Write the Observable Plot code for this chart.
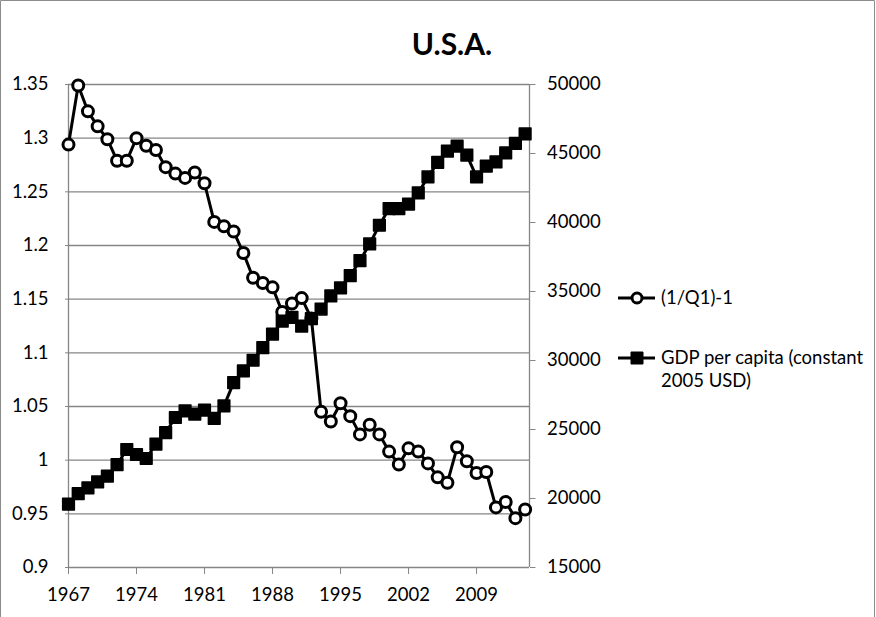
<!DOCTYPE html>
<html>
<head>
<meta charset="utf-8">
<script src="https://cdn.jsdelivr.net/npm/d3@7"></script>
<script src="https://cdn.jsdelivr.net/npm/@observablehq/plot@0.6"></script>
<style>
  html, body { margin: 0; padding: 0; background: #fff; }
  #wrap { position: relative; width: 876px; height: 617px; font-family: Lato, "Open Sans", sans-serif; }
  #wrap svg.overlay { position: absolute; left: 0; top: 0; pointer-events: none; }
  #chart { position: absolute; left: 0; top: 0; }
</style>
</head>
<body>
<div id="wrap">
  <div id="chart"></div>
  <svg class="overlay" width="876" height="617" font-family="Lato, 'Open Sans', sans-serif">
    <path d="M0.5,617 V0.5 H874.5 V617" fill="none" stroke="#8c8c8c" stroke-width="1"/>
    <text x="452" y="55" text-anchor="middle" font-size="30" font-weight="bold" fill="#000">U.S.A.</text>
    <g id="legend"></g>
  </svg>
</div>
<script>
const years = d3.range(1967, 2015);
const q1Ratio = [
  1.294, 1.349, 1.325, 1.311, 1.299, 1.279, 1.279, 1.300, 1.293, 1.289,
  1.273, 1.267, 1.263, 1.268, 1.258, 1.222, 1.218, 1.213, 1.193, 1.170,
  1.165, 1.161, 1.138, 1.146, 1.151, 1.132, 1.045, 1.036, 1.053, 1.041,
  1.024, 1.033, 1.024, 1.008, 0.996, 1.011, 1.008, 0.997, 0.984, 0.979,
  1.012, 0.999, 0.988, 0.989, 0.956, 0.961, 0.946, 0.954
];
const gdpPerCapita = [
  19590, 20360, 20770, 21200, 21620, 22460, 23550, 23190, 22900, 23940,
  24780, 25870, 26350, 26110, 26400, 25800, 26710, 28400, 29250, 30020,
  30940, 31910, 32850, 33120, 32490, 33040, 33730, 34680, 35260, 36150,
  37240, 38450, 39800, 41010, 41010, 41330, 42150, 43300, 44350, 45170,
  45530, 44880, 43300, 44080, 44390, 45040, 45730, 46420
];
const leftTicks = [0.9, 0.95, 1, 1.05, 1.1, 1.15, 1.2, 1.25, 1.3, 1.35];
const rightTicks = [15000, 20000, 25000, 30000, 35000, 40000, 45000, 50000];
const xTicks = [1967, 1974, 1981, 1988, 1995, 2002, 2009];
const seriesNames = ["(1/Q1)-1", "GDP per capita (constant", "2005 USD)"];

// right axis mapped onto the left scale
const L0 = 0.9, L1 = 1.35, R0 = 15000, R1 = 50000;
const toLeft = v => L0 + (v - R0) / (R1 - R0) * (L1 - L0);
const toRight = y => Math.round(R0 + (y - L0) / (L1 - L0) * (R1 - R0));

const qData = years.map((yr, i) => ({year: yr, v: q1Ratio[i]}));
const gData = years.map((yr, i) => ({year: yr, v: toLeft(gdpPerCapita[i])}));

const grey = "#868686";
const plot = Plot.plot({
  width: 876,
  height: 617,
  marginLeft: 68,
  marginRight: 347,
  marginTop: 84,
  marginBottom: 50,
  style: {fontFamily: "Lato, 'Open Sans', sans-serif", fontSize: "18px", color: "#000", background: "transparent"},
  x: {domain: [1967, 2014.45]},
  y: {domain: [L0, L1]},
  marks: [
    Plot.gridY(leftTicks, {stroke: grey, strokeOpacity: 1, strokeWidth: 1.3}),
    Plot.ruleX([1967], {stroke: grey, strokeWidth: 1.3}),
    Plot.ruleX([2014.45], {stroke: grey, strokeWidth: 1.3}),
    Plot.axisY(leftTicks, {anchor: "left", tickSize: 3, tickPadding: 17, stroke: grey, fill: "#000",
      tickFormat: d => String(+d.toFixed(2)), label: null, fontSize: 18.5}),
    Plot.axisY(rightTicks.map(toLeft), {anchor: "right", tickSize: 5.5, tickPadding: 12, stroke: grey, fill: "#000",
      tickFormat: d => String(toRight(d)), label: null, fontSize: 18.5}),
    Plot.axisX(xTicks, {anchor: "bottom", tickSize: 7, tickPadding: 13, stroke: grey, fill: "#000",
      tickFormat: d => String(d), label: null, fontSize: 18.5}),
    Plot.line(qData, {x: "year", y: "v", stroke: "#000", strokeWidth: 3}),
    Plot.dot(qData, {x: "year", y: "v", r: 5.5, fill: "#fff", stroke: "#000", strokeWidth: 3}),
    Plot.line(gData, {x: "year", y: "v", stroke: "#000", strokeWidth: 3}),
    Plot.dot(gData, {x: "year", y: "v", r: 6.6, symbol: "square", fill: "#000", stroke: "#000", strokeWidth: 1.5, strokeLinejoin: "round"})
  ]
});
document.getElementById("chart").appendChild(plot);

// legend
const lg = d3.select("#legend");
const items = [
  {y: 298, kind: "circle", lines: [seriesNames[0]]},
  {y: 358, kind: "square", lines: [seriesNames[1], seriesNames[2]]}
];
items.forEach(it => {
  lg.append("line").attr("x1", 618).attr("x2", 655).attr("y1", it.y).attr("y2", it.y)
    .attr("stroke", "#000").attr("stroke-width", 3);
  if (it.kind === "circle") {
    lg.append("circle").attr("cx", 637).attr("cy", it.y).attr("r", 5)
      .attr("fill", "#fff").attr("stroke", "#000").attr("stroke-width", 3);
  } else {
    lg.append("rect").attr("x", 631).attr("y", it.y - 6).attr("width", 12).attr("height", 12)
      .attr("fill", "#000").attr("stroke", "#000").attr("stroke-width", 1).attr("stroke-linejoin", "round");
  }
  it.lines.forEach((t, j) => {
    lg.append("text").attr("x", 661).attr("y", it.y + 6 + j * 23)
      .attr("font-size", 18.5).attr("fill", "#000").text(t);
  });
});
</script>
</body>
</html>
